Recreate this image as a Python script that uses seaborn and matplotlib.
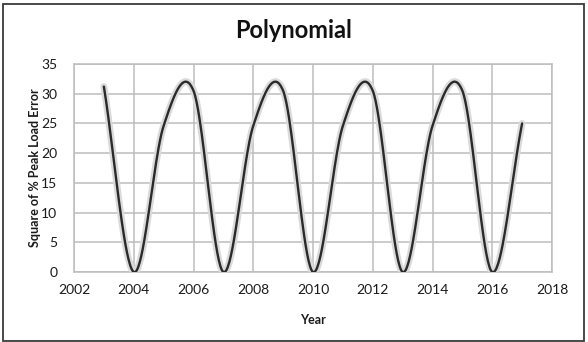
import numpy as np
import pandas as pd
import matplotlib
matplotlib.use("Agg")
import matplotlib.pyplot as plt
import matplotlib.patheffects as pe
from matplotlib.patches import Rectangle
import seaborn as sns

# Yearly values of the squared percentage peak-load error
years = [2003, 2004, 2005, 2006, 2007, 2008, 2009, 2010,
         2011, 2012, 2013, 2014, 2015, 2016, 2017]
error_sq = [31.2, 0.0, 24.6, 30.5, 0.0, 24.6, 30.5, 0.0,
            24.6, 30.5, 0.0, 24.6, 30.5, 0.0, 25.0]

x_ticks = [2002, 2004, 2006, 2008, 2010, 2012, 2014, 2016, 2018]
y_ticks = [0, 5, 10, 15, 20, 25, 30, 35]

title = "Polynomial"
x_label = "Year"
y_label = "Square of % Peak Load Error"


def smooth_curve(xv, yv, steps=40):
    """Cardinal (Catmull-Rom) spline through the points, like a smoothed line chart."""
    xv = np.asarray(xv, float)
    yv = np.asarray(yv, float)
    n = len(xv)
    mx = np.empty(n)
    my = np.empty(n)
    mx[1:-1] = (xv[2:] - xv[:-2]) / 2
    my[1:-1] = (yv[2:] - yv[:-2]) / 2
    mx[0], my[0] = xv[1] - xv[0], yv[1] - yv[0]
    mx[-1], my[-1] = xv[-1] - xv[-2], yv[-1] - yv[-2]
    out_x, out_y = [], []
    t = np.linspace(0, 1, steps, endpoint=False)
    h00 = 2 * t**3 - 3 * t**2 + 1
    h10 = t**3 - 2 * t**2 + t
    h01 = -2 * t**3 + 3 * t**2
    h11 = t**3 - t**2
    for i in range(n - 1):
        out_x.append(h00 * xv[i] + h10 * mx[i] + h01 * xv[i + 1] + h11 * mx[i + 1])
        out_y.append(h00 * yv[i] + h10 * my[i] + h01 * yv[i + 1] + h11 * my[i + 1])
    out_x.append([xv[-1]])
    out_y.append([yv[-1]])
    return np.concatenate(out_x), np.concatenate(out_y)


sx, sy = smooth_curve(years, error_sq)
curve = pd.DataFrame({"Year": sx, "Value": sy})

sns.set_theme(style="white")
plt.rcParams["font.family"] = ["Lato", "DejaVu Sans"]

fig = plt.figure(figsize=(5.88, 3.42), dpi=100)
ax = fig.add_axes([74 / 588, 1 - 272 / 342, 478 / 588, 208 / 342])

grid_color = "#bdbdbd"
sns.lineplot(data=curve, x="Year", y="Value", ax=ax, sort=False,
             color="#2a2a2a", linewidth=1.7,
             path_effects=[pe.Stroke(linewidth=5, foreground="#dadada"),
                           pe.Normal()],
             zorder=3)

ax.set_xlim(2002, 2018)
ax.set_ylim(0, 35)
ax.set_xticks(x_ticks)
ax.set_yticks(y_ticks)
ax.set_xticklabels([str(v) for v in x_ticks])
ax.set_yticklabels([str(v) for v in y_ticks])
ax.grid(True, color=grid_color, linewidth=1.1)
ax.set_axisbelow(True)
for sp in ax.spines.values():
    sp.set_color(grid_color)
    sp.set_linewidth(1.1)
ax.tick_params(axis="both", length=0, labelsize=10, colors="#1a1a1a")
ax.tick_params(axis="y", pad=12)
ax.tick_params(axis="x", pad=9)

ax.set_xlabel(x_label, fontsize=9, fontweight="bold", color="#1a1a1a")
ax.set_ylabel(y_label, fontsize=9, fontweight="bold", color="#1a1a1a")
ax.xaxis.label.set_va("center")
ax.yaxis.label.set_va("center")
ax.xaxis.set_label_coords(0.5, (272 - 320) / 208)
ax.yaxis.set_label_coords((35 - 74) / 478, 0.5)

fig.text(0.5, 1 - 38 / 342, title, ha="center", va="baseline",
         fontsize=17, fontweight="bold", color="#111111")

fig.patches.append(Rectangle((3 / 588, 1 / 342), 581 / 588, 337 / 342,
                             transform=fig.transFigure, fill=False,
                             edgecolor="#3a3a3a", linewidth=1.3))

fig.savefig("out.png", dpi=100, facecolor="white")
